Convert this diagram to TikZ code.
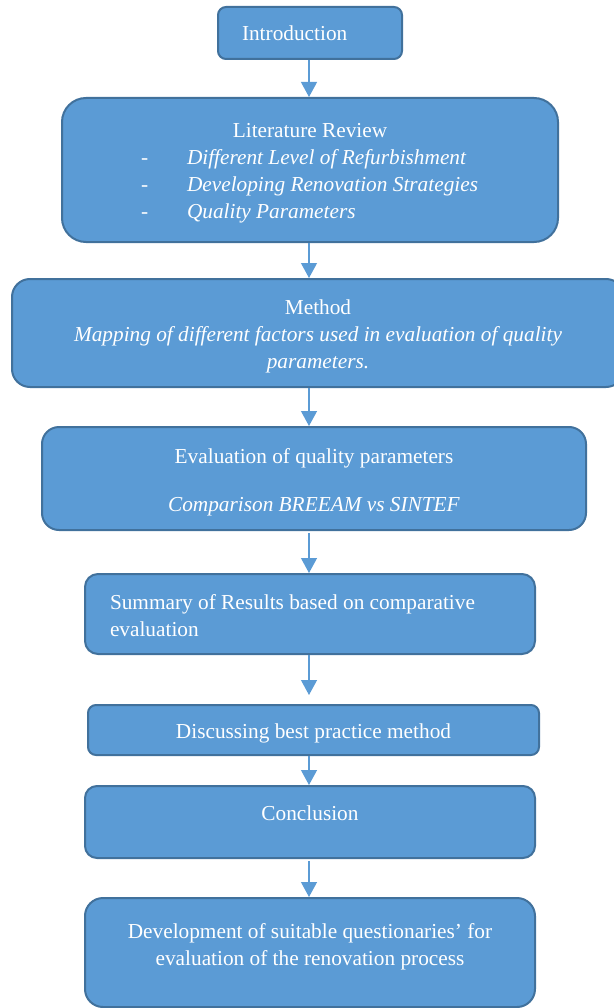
\documentclass[tikz,border=0pt]{standalone}
\usepackage{fontspec}
\setmainfont{Liberation Serif}
\usetikzlibrary{arrows.meta}

\definecolor{FlowBlue}{HTML}{5B9BD5}
\definecolor{FlowEdge}{HTML}{41719C}
\tikzstyle{flow-box}=[draw=FlowEdge, line width=2pt, fill=FlowBlue, text=white, inner sep=0pt, font=\fontsize{21.3}{27}\selectfont]
\tikzstyle{flow-text}=[text=white, inner sep=0pt, font=\fontsize{21.3}{27}\selectfont]
\tikzstyle{flow-arrow}=[draw=FlowBlue, line width=1.2pt, -{Triangle[width=16pt,length=15pt]}]
\tikzset{flow-sink/.style={execute at begin node={\rule{0pt}{#1}}}}

\begin{document}
\begin{tikzpicture}[x=1pt, y=-1pt]
      \useasboundingbox (0,0) rectangle (613,1008);

      \node (intro) at (310, 33) [flow-box, minimum height=52pt, rounded corners=8pt, inner xsep=24pt, text width=136pt, align=flush left] {Introduction};
      \node (litreview) at (310, 170) [flow-box, flow-sink=20pt, minimum height=144pt, rounded corners=24pt, inner xsep=79pt, text width=338pt, align=flush left]
            {\makebox[338pt]{Literature Review}\\
             \makebox[338pt][l]{\makebox[46pt][l]{-}\textit{Different Level of Refurbishment}}\\
             \makebox[338pt][l]{\makebox[46pt][l]{-}\textit{Developing Renovation Strategies}}\\
             \makebox[338pt][l]{\makebox[46pt][l]{-}\textit{Quality Parameters}}};
      \node (method) at (318, 333) [flow-box, flow-sink=21pt, minimum height=108pt, rounded corners=18pt, inner xsep=26pt, text width=560pt, align=flush center]
            {Method\\ \textit{Mapping of different factors used in evaluation of quality}\\ \textit{parameters.}};
      \node (evaluation) at (314, 478.5) [flow-box, flow-sink=22pt, minimum height=103pt, rounded corners=17pt, inner xsep=22pt, text width=500pt, align=flush center]
            {Evaluation of quality parameters\\[21pt] \textit{Comparison BREEAM vs SINTEF}};
      \node (summary) at (310, 614) [flow-box, flow-sink=18pt, minimum height=80pt, rounded corners=13pt, inner xsep=25pt, text width=400pt, align=flush left]
            {Summary of Results based on comparative\\ evaluation};
      \node (discussion) at (313.5, 730) [flow-box, flow-sink=21pt, minimum width=451pt, minimum height=50pt, rounded corners=8pt] {Discussing best practice method};
      \node (conclusion) at (310, 822) [flow-box, minimum width=450pt, minimum height=72pt, rounded corners=12pt] {};
      \node (conclusion-text) at ([yshift=9pt]conclusion.center) [flow-text] {Conclusion};
      \node (development) at (310, 952.5) [flow-box, minimum width=450pt, minimum height=109pt, rounded corners=18pt] {};
      \node (development-text) at ([yshift=6pt]development.center) [flow-text, align=center]
            {Development of suitable questionaries’ for\\ evaluation of the renovation process};

      % arrows down the middle
      \coordinate (spine) at (309, 0);
      \draw[flow-arrow] (intro.south -| spine) -- (litreview.north -| spine);
      \draw[flow-arrow] (litreview.south -| spine) -- (method.north -| spine);
      \draw[flow-arrow] (method.south -| spine) -- (evaluation.north -| spine);
      \draw[flow-arrow, shorten <=2pt] (evaluation.south -| spine) -- (summary.north -| spine);
      \draw[flow-arrow, shorten >=9pt] (summary.south -| spine) -- (discussion.north -| spine);
      \draw[flow-arrow] (discussion.south -| spine) -- (conclusion.north -| spine);
      \draw[flow-arrow, shorten <=2pt] (conclusion.south -| spine) -- (development.north -| spine);
    \end{tikzpicture}
\end{document}
